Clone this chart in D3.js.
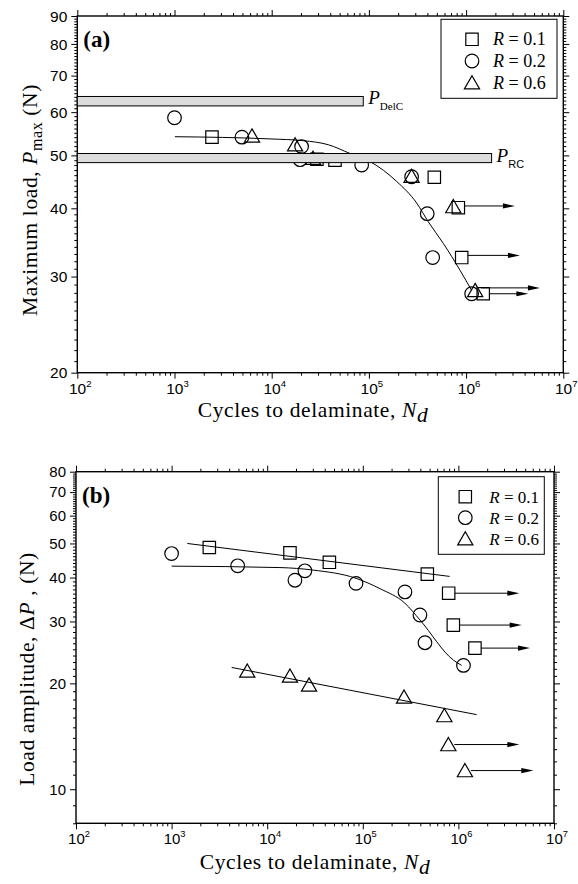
<!DOCTYPE html>
<html>
<head>
<meta charset="utf-8">
<script src="https://cdn.jsdelivr.net/npm/d3@7"></script>
<style>body{margin:0;background:#fff}</style>
</head>
<body>
<script>
var serif = "'Liberation Serif','Times New Roman',serif";
var sans = "'Liberation Sans',Arial,sans-serif";

// ---- shared ----
var xDecades = [1e2, 1e3, 1e4, 1e5, 1e6, 1e7];
var legendLabels = ["0.1", "0.2", "0.6"];

// ---- panel (a): maximum load [N, Pmax] ----
var yTicksA = [20, 30, 40, 50, 60, 70, 80, 90];
var sqA = [[2430, 54.0], [29200, 49.2], [44800, 49.0], [471000, 45.6], [832000, 40.1], [901000, 32.5], [1500000, 27.9]];
var ciA = [[1000, 58.6], [4940, 54.0], [20300, 51.9], [19600, 49.1], [84300, 48.0], [275000, 45.7], [398000, 39.1], [453000, 32.5], [1140000, 27.9]];
var trA = [[6270, 54.3], [17400, 52.3], [26600, 49.4], [275000, 45.8], [738000, 40.3], [1240000, 28.3]];
var fitA = [[1010, 54.1], [9600, 53.6], [21100, 53.2], [38200, 52.3], [64000, 50.4], [103000, 48.7], [193000, 44.8],
            [310000, 40.9], [408000, 37.8], [583000, 34.5], [866000, 30.8], [1140000, 28.3]];
// run-outs: [N start, P, N arrow tip]
var runA = [[832000, 40.4, 3180000], [901000, 32.8, 3580000], [1240000, 28.6, 5750000], [1500000, 27.9, 4370000]];
// critical load bands: [label, low, high, N end]
var bandsA = [["DelC", 61.6, 64.1, 87500], ["RC", 48.5, 50.4, 1830000]];

// ---- panel (b): load amplitude [N, dP] ----
var yTicksB = [10, 20, 30, 40, 50, 60, 70, 80];
var sqB = [[2480, 48.7], [17300, 47.0], [44700, 44.2], [473000, 40.9], [791000, 36.1], [885000, 29.3], [1490000, 25.2]];
var ciB = [[1000, 46.8], [4910, 43.2], [19500, 39.3], [24800, 41.8], [84900, 38.5], [276000, 36.4], [396000, 31.3], [447000, 26.1], [1130000, 22.5]];
var trB = [[6190, 21.7], [17300, 21.0], [27400, 19.8], [270000, 18.3], [713000, 16.2], [785000, 13.4], [1170000, 11.3]];
var fitSqB = [[1460, 50.0], [809000, 40.3]];
var fitCiB = [[1000, 43.1], [13600, 42.7], [30300, 42.0], [84900, 39.8], [151000, 37.2], [276000, 33.8], [396000, 30.3], [885000, 23.3], [1080000, 22.5]];
var fitTrB = [[4250, 22.2], [1550000, 16.3]];
var runB = [[791000, 36.1, 4340000], [885000, 29.3, 4590000], [1490000, 25.2, 5610000], [785000, 13.4, 4340000], [1170000, 11.3, 6080000]];

var svg = d3.select("body").append("svg")
  .attr("width", 578)
  .attr("height", 884)
  .style("font-family", serif);

function shape(type) {
  if (type == "sq") return "M-6.2,-6.2h12.4v12.4h-12.4Z";
  if (type == "tr") return "M0,-7L7.6,6.2L-7.6,6.2Z";
  return "M6.8,0A6.8,6.8 0 1 1 -6.8,0A6.8,6.8 0 1 1 6.8,0Z";
}

function panel(p) {
  var x = d3.scaleLog().domain([1e2, 1e7]).range([p.left, p.right]);
  var y = d3.scaleLog().domain(p.ydom).range([p.bottom, p.top]);
  var g = svg.append("g");

  var minorX = [];
  xDecades.slice(0, -1).forEach(function(d) {
    d3.range(2, 10).forEach(function(k) { minorX.push(d * k); });
  });
  var minorY = d3.range(p.ydom[0], p.ydom[1]).filter(function(v) { return p.yticks.indexOf(v) < 0; });

  var axes = [
    [d3.axisBottom(x), "translate(0," + p.bottom + ")", xDecades, minorX],
    [d3.axisTop(x), "translate(0," + p.top + ")", xDecades, minorX],
    [d3.axisLeft(y), "translate(" + p.left + ",0)", p.yticks, minorY],
    [d3.axisRight(y), "translate(" + p.right + ",0)", p.yticks, minorY]
  ];
  axes.forEach(function(a) {
    g.append("g").attr("transform", a[1])
      .call(a[0].tickValues(a[3]).tickSize(3).tickSizeOuter(0).tickFormat(""))
      .call(function(s) { s.select(".domain").remove(); });
    g.append("g").attr("transform", a[1])
      .call(a[0].tickValues(a[2]).tickSize(6).tickSizeOuter(0).tickFormat(""))
      .call(function(s) { s.select(".domain").remove(); });
  });
  g.selectAll(".tick line").attr("stroke-width", 1);

  g.append("rect")
    .attr("x", p.left).attr("y", p.top)
    .attr("width", p.right - p.left).attr("height", p.bottom - p.top)
    .attr("fill", "none").attr("stroke", "#000").attr("stroke-width", 1.4);

  // tick labels
  g.selectAll(".ylab").data(p.yticks).enter().append("text")
    .attr("x", p.left - 10)
    .attr("y", function(d) { return y(d); })
    .attr("dy", "0.36em")
    .attr("text-anchor", "end")
    .style("font-family", sans)
    .style("font-size", p.fs + "px")
    .text(function(d) { return d; });

  var xl = g.selectAll(".xlab").data(xDecades).enter().append("text")
    .attr("x", function(d) { return x(d) + 3; })
    .attr("y", p.bottom + p.xlabDy)
    .attr("text-anchor", "middle")
    .style("font-family", sans)
    .style("font-size", p.fs + "px");
  xl.append("tspan").text("10");
  xl.append("tspan").attr("dy", -7).style("font-size", (p.fs * 0.62) + "px")
    .text(function(d) { return Math.round(Math.log10(d)); });

  // axis titles
  var xt = g.append("text")
    .attr("x", p.xtX).attr("y", p.bottom + p.xtDy)
    .attr("text-anchor", "middle")
    .style("letter-spacing", "0.6px")
    .style("font-size", p.tfs + "px");
  xt.append("tspan").text("Cycles to delaminate, ");
  xt.append("tspan").style("font-style", "italic").text("N");
  xt.append("tspan").style("font-style", "italic").attr("dy", 5).text("d");

  var yt = g.append("text")
    .attr("transform", "translate(" + p.ytX + "," + p.ytY + ") rotate(-90)")
    .attr("text-anchor", "middle")
    .style("letter-spacing", "0.6px")
    .style("font-size", p.tfs + "px");
  p.ytitle(yt);

  g.append("text")
    .attr("x", p.left + 6).attr("y", p.top + 31)
    .style("font-weight", "bold")
    .style("font-size", "23px")
    .text(p.tag);

  var line = d3.line()
    .x(function(d) { return x(d[0]); })
    .y(function(d) { return y(d[1]); })
    .curve(d3.curveMonotoneX);

  p.fits.forEach(function(f) {
    g.append("path").datum(f)
      .attr("d", line)
      .attr("fill", "none").attr("stroke", "#000").attr("stroke-width", 1);
  });

  p.series.forEach(function(s) {
    g.selectAll(null).data(s[1]).enter().append("path")
      .attr("transform", function(d) { return "translate(" + x(d[0]) + "," + y(d[1]) + ")"; })
      .attr("d", shape(s[0]))
      .attr("fill", "none").attr("stroke", "#000").attr("stroke-width", 1.2);
  });

  // run-out arrows
  p.runs.forEach(function(r) {
    var x0 = x(r[0]) + 6, x1 = x(r[2]), yy = y(r[1]);
    g.append("line").attr("x1", x0).attr("x2", x1 - 8).attr("y1", yy).attr("y2", yy)
      .attr("stroke", "#000").attr("stroke-width", 1);
    g.append("path").attr("d", "M" + x1 + "," + yy + "L" + (x1 - 12) + "," + (yy - 2.6) + "L" + (x1 - 12) + "," + (yy + 2.6) + "Z")
      .attr("fill", "#000");
  });

  // critical load bands drawn over the data
  p.bands.forEach(function(b) {
    g.append("rect")
      .attr("x", x(1e2)).attr("y", y(b[2]))
      .attr("width", x(b[3]) - x(1e2)).attr("height", y(b[1]) - y(b[2]))
      .attr("fill", "#dcdcdc").attr("stroke", "#000").attr("stroke-width", 1);
    var t = g.append("text")
      .attr("x", x(b[3]) + 5).attr("y", y(b[2]) + 8)
      .style("font-size", "19px");
    t.append("tspan").style("font-style", "italic").text("P");
    t.append("tspan").attr("dy", 6).style("font-size", "11px")
      .style("font-family", b[0] == "RC" ? sans : serif).text(b[0]);
  });

  // legend
  var lg = g.append("g");
  lg.append("rect")
    .attr("x", p.leg[0]).attr("y", p.leg[1]).attr("width", p.leg[2]).attr("height", p.leg[3])
    .attr("fill", "#fff").attr("stroke", "#000").attr("stroke-width", 1);
  ["sq", "ci", "tr"].forEach(function(k, i) {
    var cy = p.leg[1] + p.legRow0 + i * p.legStep;
    lg.append("path").attr("transform", "translate(" + (p.leg[0] + p.legSym) + "," + cy + ")")
      .attr("d", shape(k)).attr("fill", "none").attr("stroke", "#000").attr("stroke-width", 1.2);
    var t = lg.append("text").attr("x", p.leg[0] + p.legTxt).attr("y", cy + 6)
      .style("font-size", p.lfs + "px");
    t.append("tspan").style("font-style", "italic").text("R");
    t.append("tspan").text(" = " + legendLabels[i]);
  });
}

panel({
  left: 77.3, right: 563.3, top: 16, bottom: 372.7,
  ydom: [20, 90], yticks: yTicksA, fs: 15.5, xlabDy: 21,
  tfs: 21.5, xtX: 313, xtDy: 44.5, ytX: 37, ytY: 200,
  ytitle: function(t) {
    t.append("tspan").text("Maximum load, ");
    t.append("tspan").style("font-style", "italic").text("P");
    t.append("tspan").attr("dy", 5).style("font-size", "16px").text("max");
    t.append("tspan").attr("dy", -5).text(" (N)");
  },
  tag: "(a)",
  fits: [fitA],
  series: [["sq", sqA], ["ci", ciA], ["tr", trA]],
  runs: runA,
  bands: bandsA,
  leg: [441, 19.3, 116, 79], legRow0: 20, legStep: 21.7, legSym: 31, legTxt: 52, lfs: 18
});

panel({
  left: 76, right: 554, top: 471.7, bottom: 823.3,
  ydom: [8, 80], yticks: yTicksB, fs: 15, xlabDy: 21,
  tfs: 21.5, xtX: 315, xtDy: 46, ytX: 34, ytY: 669,
  ytitle: function(t) {
    t.append("tspan").text("Load amplitude, \u0394");
    t.append("tspan").style("font-style", "italic").text("P");
    t.append("tspan").text(" , (N)");
  },
  tag: "(b)",
  fits: [fitSqB, fitCiB, fitTrB],
  series: [["sq", sqB], ["ci", ciB], ["tr", trB]],
  runs: runB,
  bands: [],
  leg: [438.3, 476.7, 106, 77.6], legRow0: 20, legStep: 21, legSym: 27, legTxt: 51, lfs: 17
});
</script>
</body>
</html>
